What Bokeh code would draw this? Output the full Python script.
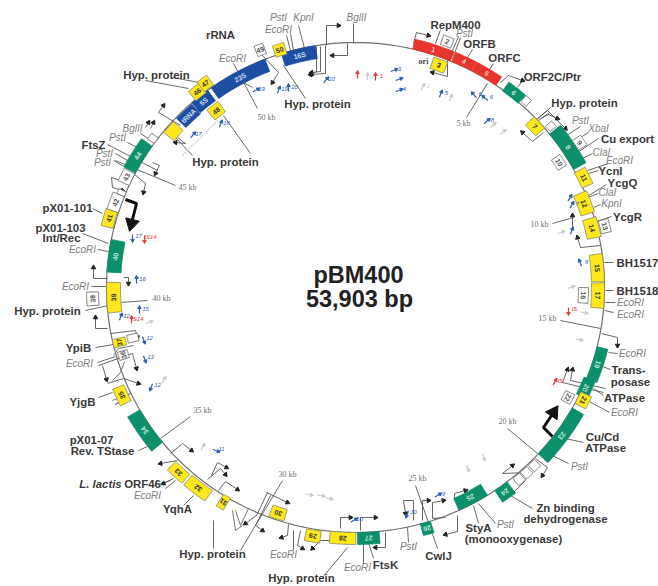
import numpy as np
from bokeh.plotting import figure
from bokeh.core.properties import value
from bokeh.embed import file_html
from bokeh.resources import INLINE

TOTAL_KB = 53.903
# ---- data: gene map (positions in kb)
gene_names = ["1","2","3","4","5","6","","7","","8","9","10","11","12","14","13","15","17","16","19","20","21","22",
 "23","","","","24","25","26","27","28","29","30","31","32","33","34","35","36","37","","38","39","40","41","42","",
 "43","44","","","tRNA","5S","48","46","47","23S","16S","50","49"]
gene_start_kb = [1.99,2.84,2.77,3.41,4.18,5.44,6.17,6.86,7.37,7.67,8.31,8.46,9.28,10.02,10.98,11.15,12.28,13.31,13.48,15.57,16.73,17.25,17.44,
 17.89,20.11,20.47,20.81,21.34,22.16,24.33,26.14,26.94,28.13,29.47,31.49,32.16,33.11,34.56,36.37,37.81,38.29,38.33,39.83,39.53,40.97,42.51,43.09,43.69,
 44.11,44.60,45.82,46.33,46.99,47.75,47.99,47.91,48.33,48.60,51.31,51.10,50.53]
gene_end_kb = [3.35,3.20,3.29,4.16,5.14,6.14,6.41,7.40,7.61,9.16,8.68,8.91,9.88,10.80,11.69,11.60,13.27,14.21,14.07,16.74,17.38,17.70,17.82,
 19.88,20.41,20.77,21.11,21.86,23.27,24.69,26.88,27.82,28.64,30.01,31.76,33.03,33.76,35.94,36.97,38.11,38.59,38.63,40.28,40.61,42.12,43.11,43.69,43.87,
 44.56,45.70,46.06,46.84,47.72,48.45,48.51,48.36,48.72,50.71,52.51,51.49,50.83]
gene_kind = ["r","w","y","r","r","g","w","y","w","g","w","w","y","y","y","w","y","y","w","g","g","y","w",
 "g","w","w","w","g","g","g","g","y","y","y","y","y","y","g","y","w","y","w","w","y","g","y","w","w",
 "w","g","w","y","b","b","y","y","y","b","b","y","w"]
# radial placement of each box relative to the ring (layout)
gene_r0 = [0,12,-14,0,0,-1,2,-12,2,0,14,-14,-1,-12,-12,3,-13,-13,-26,0,-3,0,-14,
 0,1,1,1,0,-13,0,0,0,1,-13,-1,2,3,0,3,-12,-13,-26,8,-14,-14,1,0,0,
 0,0,0,-14,-14,-13,-28,-1,1,-13,-13,-2,5]
gene_r1 = [10,22,-2,10,10,10,10,0,10,14,24,-4,11,2,2,13,0,0,-16,11,9,12,-4,
 13,10,10,10,14,0,12,12,12,13,-1,13,15,15,14,15,-2,0,-15,20,0,0,13,12,8,
 12,13,8,-1,-1,0,-15,11,13,0,0,10,16]
kind_color = {"r":"#e5352d","y":"#ffe81a","g":"#0e8f6c","b":"#1d4ea2","w":"#ffffff"}
kind_text = {"r":"#ffd0c8","y":"#333333","g":"#bfe6d8","b":"#cfdcf8","w":"#555555"}

# ---- text labels
title_lines = ["pBM400","53,903 bp"]
bold_labels = [("rRNA",220,34),("Hyp. protein",156,74),("Hyp. protein",225,161),("FtsZ",93,144),("pX01-101",67,207),
 ("pX01-103",60,227),("Int/Rec",61,237),("Hyp. protein",317,103),("Hyp. protein",47,310),("YpiB",78,347),("YjgB",82,401),
 ("pX01-07",91,439),("Rev. TStase",102,450),("ORF46",142,483),("YqhA",177,508),("Hyp. protein",212,553),("Hyp. protein",301,577),
 ("FtsK",385,564),("CwlJ",438,555),("StyA",478,527),("(monooxygenase)",513,538),("Zn binding",565,507),("dehydrogenase",565,518),
 ("Cu/Cd",602,436),("ATPase",605,447),("ATPase",624,397),("Trans-",628,369),("posase",630,381),("BH1517",637,262),("BH1518",637,290),
 ("YcgR",627,216),("YcgQ",622,182),("YcnI",610,170),("Cu export",627,138),("Hyp. protein",584,102),("ORF2C/Ptr",552,76),
 ("ORFC",504,57),("ORFB",479,43),("RepM400",455,24)]
enzyme_labels = [("BglII",356,17),("PstI",464,33),("PstI",580,120),("XbaI",598,128),("ClaI",601,152),("EcoRI",619,160),("ClaI",607,192),
 ("KpnI",611,203),("EcoRI",630,302),("EcoRI",630,314),("EcoRI",632,353),("EcoRI",624,412),("PstI",579,466),("PstI",505,524),("PstI",408,546),
 ("EcoRI",357,567),("EcoRI",283,554),("EcoRI",147,495),("EcoRI",79,363),("EcoRI",75,286),("EcoRI",82,249),("PstI",104,153),("PstI",102,162),
 ("PstI",117,137),("BglII",132,128),("EcoRI",232,58),("PstI",278,17),("KpnI",303,17),("EcoRI",278,29)]
kb_labels = [("5 kb",463,123),("10 kb",539,224),("15 kb",547,318),("20 kb",507,421),("25 kb",417,478),("30 kb",287,474),("35 kb",202,410),
 ("40 kb",161,298),("45 kb",187,187),("50 kb",266,117)]

# ---- layout of leader lines (reference pixels)
leaders = [(440,29,435,43),(460,37,452,58),(458,36,449,57),(472,49,467,57),(493,63,485,75),(466,117,487,83),(522,80,517,87),(550,107,533,122),(549,112,538,120),
 (580,126,566,135),(588,132,572,142),(598,138,577,152),(592,153,582,158),(608,163,587,170),(598,170,588,173),(606,184,585,197),(598,193,587,197),
 (600,204,593,207),(611,216,593,222),(552,223,573,217),(613,262,604,262),(613,290,605,290),(615,302,605,302),(613,312,604,310),(560,320,600,328),
 (617,353,608,352),(610,369,602,366),(603,395,593,388),(609,412,587,400),(583,442,565,438),(568,463,548,453),(507,428,537,453),(532,508,510,495),
 (478,523,473,505),(495,523,478,503),(415,485,437,548),(408,542,407,527),(373,558,368,542),(363,563,363,542),(347,547,322,577),(293,550,293,530),
 (213,548,213,520),(282,480,240,550),(183,505,193,495),(165,488,175,480),(160,483,170,480),(138,450,147,446),(190,416,160,438),(98,397,112,392),
 (97,362,115,356),(95,347,113,344),(85,310,108,305),(147,300,120,302),(91,286,107,286),(97,249,108,251),(82,233,108,243),(92,208,102,213),
 (107,144,157,170),(127,142,137,147),(115,153,132,163),(113,160,127,168),(115,160,175,185),(140,133,148,138),(145,80,188,88),(172,77,199,82),
 (192,155,175,137),(250,153,223,115),(233,63,257,108),(252,87,243,82),(305,98,283,65),(290,33,293,50),(286,35,290,50),(298,25,304,48),(353,23,353,43)]
bent_arrows = [[(413,43),(416,32),(428,35)],[(347,43),(347,55),(332,55)],[(326,45),(326,25),(338,25)],[(325,45),(325,73),(310,74)],[(320,46),(320,71),(311,72)],
 [(447,60),(447,76),(432,72)],[(500,82),(508,75),(522,80)],[(537,118),(547,110),(565,128)],[(540,118),(548,114),(557,118)],[(543,132),(532,141),(522,132)],
 [(600,245),(580,247),(577,237)],[(572,230),(572,215)],[(601,333),(617,337),(617,345)],[(605,388),(570,380),(572,369)],[(603,392),(562,382),(567,369)],
 [(535,458),(547,467),(542,475)],[(527,472),(502,473),(512,465)],[(525,480),(515,490),(512,492)],[(454,498),(454,493),(465,490)],[(457,515),(457,531),(445,534)],
 [(445,517),(432,518),(432,502),(443,500)],[(413,520),(413,500),(403,500),(405,513)],[(422,520),(422,500),(428,500)],[(340,528),(340,517),(350,517)],
 [(360,530),(360,517),(375,517)],[(385,532),(385,547),(375,547)],[(267,492),(256,515),(245,523)],[(270,495),(255,525),(262,530)],[(266,492),(287,502)],
 [(211,475),(217,462),(226,467)],[(207,479),(220,468),(225,474)],[(218,490),(225,481),(237,489)],[(170,453),(182,443),(191,450)],[(177,460),(160,463)],[(173,478),(163,483)],
 [(110,333),(135,330),(137,337)],[(98,365),(132,353),(136,368)],[(102,365),(106,379)],[(107,383),(123,378),(138,383)],[(107,328),(95,328),(95,317)],
 [(107,278),(93,278),(93,267)],[(123,277),(128,277),(128,283)],[(133,173),(145,183),(143,192)],[(120,180),(111,177),(112,187),(122,190)],[(152,162),(159,165),(155,173)],
 [(145,127),(148,122)],[(150,128),(153,122)],[(180,125),(158,112),(163,105)],[(177,137),(185,143),(175,142)],[(260,53),(278,72),(272,82)],[(316,46),(316,71),(311,74)],
 [(333,540),(320,540),(312,548)],[(288,524),(287,535),(281,537)],[(300,530),(297,545),(302,548)]]
hairpins = [[(235,510),(240,525),(248,508)],[(232,510),(235,530),(242,525)],[(124,361),(120,372),(112,380)],[(112,400),(130,393),(115,404),(128,397)],[(113,355),(118,348),(133,345)]]
big_arrows = [[(125,199),(136,203),(131,223)],[(552,436),(543,427),(553,412)]]

# small inner markers: x, y, direction (deg, screen), colour key, label
tiny = [(393,70,70,"b","3"),(398,79,70,"b",""),(398,90,70,"b","4"),(422,87,30,"a","2"),(440,94,20,"b","5"),(450,98,20,"a",""),(474,95,-40,"b","6"),(485,98,-50,"b","6"),
 (486,121,50,"b","8"),(492,125,50,"a",""),(502,132,50,"a",""),(569,198,30,"b",""),(571,205,30,"b","7"),(571,231,20,"b",""),(560,232,70,"a",""),(580,263,-20,"b","9"),(570,287,70,"a",""),
 (357,75,0,"r",""),(367,77,0,"a",""),(375,77,0,"r","1"),(255,90,60,"b","19"),(278,90,20,"b","19"),(288,88,0,"b","20"),(325,80,40,"b","20"),(220,124,20,"b","18"),(192,135,40,"b","17"),
 (132,237,180,"b","17"),(144,238,180,"r","IS14"),(136,280,0,"b","16"),(139,310,0,"b","15"),(120,317,20,"b","12"),(131,320,0,"r","IS14"),(148,322,70,"a",""),(143,339,160,"b","12"),
 (144,358,160,"b","13"),(151,386,200,"b","12"),(163,380,30,"a",""),(202,447,30,"a",""),(215,450,110,"b","11"),(308,494,100,"a",""),(320,495,100,"a",""),(328,498,100,"a",""),
 (437,495,60,"b","9"),(407,513,200,"b","10"),(353,520,60,"b","10"),(467,467,160,"a",""),(483,456,160,"a",""),(568,310,180,"r","IS"),(583,312,100,"a",""),(578,339,100,"a",""),(554,382,30,"r","IS")]
tiny_color = {"b":"#2d5fb4","r":"#e33b3b","a":"#c8ccd0"}

# ---- geometry helpers
CX, CY, RX, RY = 355.0, 287.0, 249.0, 245.0
def ring(kb, off=0.0):
    t = np.radians(np.asarray(kb, dtype=float) / TOTAL_KB * 360.0)
    return CX + (RX + off) * np.sin(t), CY - (RY + off) * np.cos(t)

p = figure(width=658, height=586, x_range=(0, 658), y_range=(586, 0), output_backend="svg",
           toolbar_location=None, min_border=0, background_fill_color="white", border_fill_color="white")
p.xaxis.visible = False
p.yaxis.visible = False
p.grid.visible = False
p.outline_line_color = None

# leaders under the ring
lx = [[a, c] for a, b, c, d in leaders]
ly = [[b, d] for a, b, c, d in leaders]
p.multi_line(lx, ly, line_color="#6a6a6a", line_width=1)

ts = np.linspace(0, TOTAL_KB, 361)
rx, ry = ring(ts)
p.line(rx, ry, line_color="#707070", line_width=1.2)

p.multi_line([[q[0] for q in h] for h in hairpins], [[q[1] for q in h] for h in hairpins], line_color="#666666", line_width=0.9)

# bent arrows
p.multi_line([[q[0] for q in b] for b in bent_arrows], [[q[1] for q in b] for b in bent_arrows], line_color="#555555", line_width=0.9)
hx, hy, ha = [], [], []
for b in bent_arrows:
    (x0, y0), (x1, y1) = b[-2], b[-1]
    hx.append(x1); hy.append(y1); ha.append(np.arctan2(-(x1 - x0), -(y1 - y0)))
p.scatter(hx, hy, marker="triangle", size=4.5, angle=ha, fill_color="#222222", line_color="#222222")

# big arrows
p.multi_line([[q[0] for q in b] for b in big_arrows], [[q[1] for q in b] for b in big_arrows], line_color="#111111", line_width=3)
hx, hy, ha = [], [], []
for b in big_arrows:
    (x0, y0), (x1, y1) = b[-2], b[-1]
    hx.append(x1); hy.append(y1); ha.append(np.arctan2(-(x1 - x0), -(y1 - y0)))
p.scatter(hx, hy, marker="triangle", size=14, angle=ha, fill_color="#111111", line_color="#111111")

# genes
xs, ys, fills, lines = [], [], [], []
for a, b, r0, r1, k in zip(gene_start_kb, gene_end_kb, gene_r0, gene_r1, gene_kind):
    arc = np.linspace(a, b, 12)
    ox, oy = ring(arc, r1)
    ix, iy = ring(arc[::-1], r0)
    xs.append(np.concatenate([ox, ix])); ys.append(np.concatenate([oy, iy]))
    fills.append(kind_color[k]); lines.append("#666666" if k == "w" else "#8a8a6a" if k == "y" else kind_color[k])
p.patches(xs, ys, fill_color=fills, line_color=lines, line_width=0.8)

tx, ty, tt, ta, tc = [], [], [], [], []
for n, a, b, r0, r1, k in zip(gene_names, gene_start_kb, gene_end_kb, gene_r0, gene_r1, gene_kind):
    if not n:
        continue
    m = (a + b) / 2
    x, y = ring(m, (r0 + r1) / 2)
    tx.append(float(x)); ty.append(float(y)); tt.append(n); ta.append(-m / TOTAL_KB * 360.0); tc.append(kind_text[k])
p.text(tx, ty, text=tt, angle=ta, angle_units="deg", text_color=tc, text_font=value("Liberation Sans"),
       text_font_size="7px", text_font_style="bold", text_align="center", text_baseline="middle")

# small inner markers
sx0, sy0, sx1, sy1, sc, sa = [], [], [], [], [], []
for x, y, d, k, l in tiny:
    t = np.radians(d)
    dx, dy = 3 * np.sin(t), -3 * np.cos(t)
    sx0.append([x - dx, x + dx]); sy0.append([y - dy, y + dy]); sc.append(tiny_color[k])
    sx1.append(x + dx); sy1.append(y + dy); sa.append(-t)
p.multi_line(sx0, sy0, line_color=sc, line_width=1.2)
p.scatter(sx1, sy1, marker="triangle", size=3.5, angle=sa, fill_color=sc, line_color=sc)
lab = [(x + 6, y - 2, l, tiny_color[k]) for x, y, d, k, l in tiny if l]
p.text([a[0] for a in lab], [a[1] for a in lab], text=[a[2] for a in lab], text_color=[a[3] for a in lab],
       text_font=value("Liberation Sans"), text_font_size="6px", text_font_style="italic", text_align="center", text_baseline="middle")
p.line([182, 217], [155, 120], line_color="#c8ccd0", line_width=1.2, line_dash="2 1")

# text
def labels(items, size, color, style, font="Liberation Sans"):
    p.text([i[1] for i in items], [i[2] for i in items], text=[i[0] for i in items], text_color=color,
           text_font=value(font), text_font_size=size, text_font_style=style, text_align="center", text_baseline="middle")

labels(bold_labels, "11.4px", "#3a3a3a", "bold")
labels([("L. lactis", 100, 483)], "11.4px", "#3a3a3a", "bold italic")
labels(enzyme_labels, "10px", "#808080", "italic")
labels(kb_labels, "8px", "#707070", "normal", "Liberation Serif")
labels([("ori", 423, 61)], "8px", "#444444", "bold", "Liberation Serif")
labels([(title_lines[0], 358, 274), (title_lines[1], 359, 298)], "23.5px", "#222222", "bold")

open("out.html", "w").write(file_html(p, INLINE))
